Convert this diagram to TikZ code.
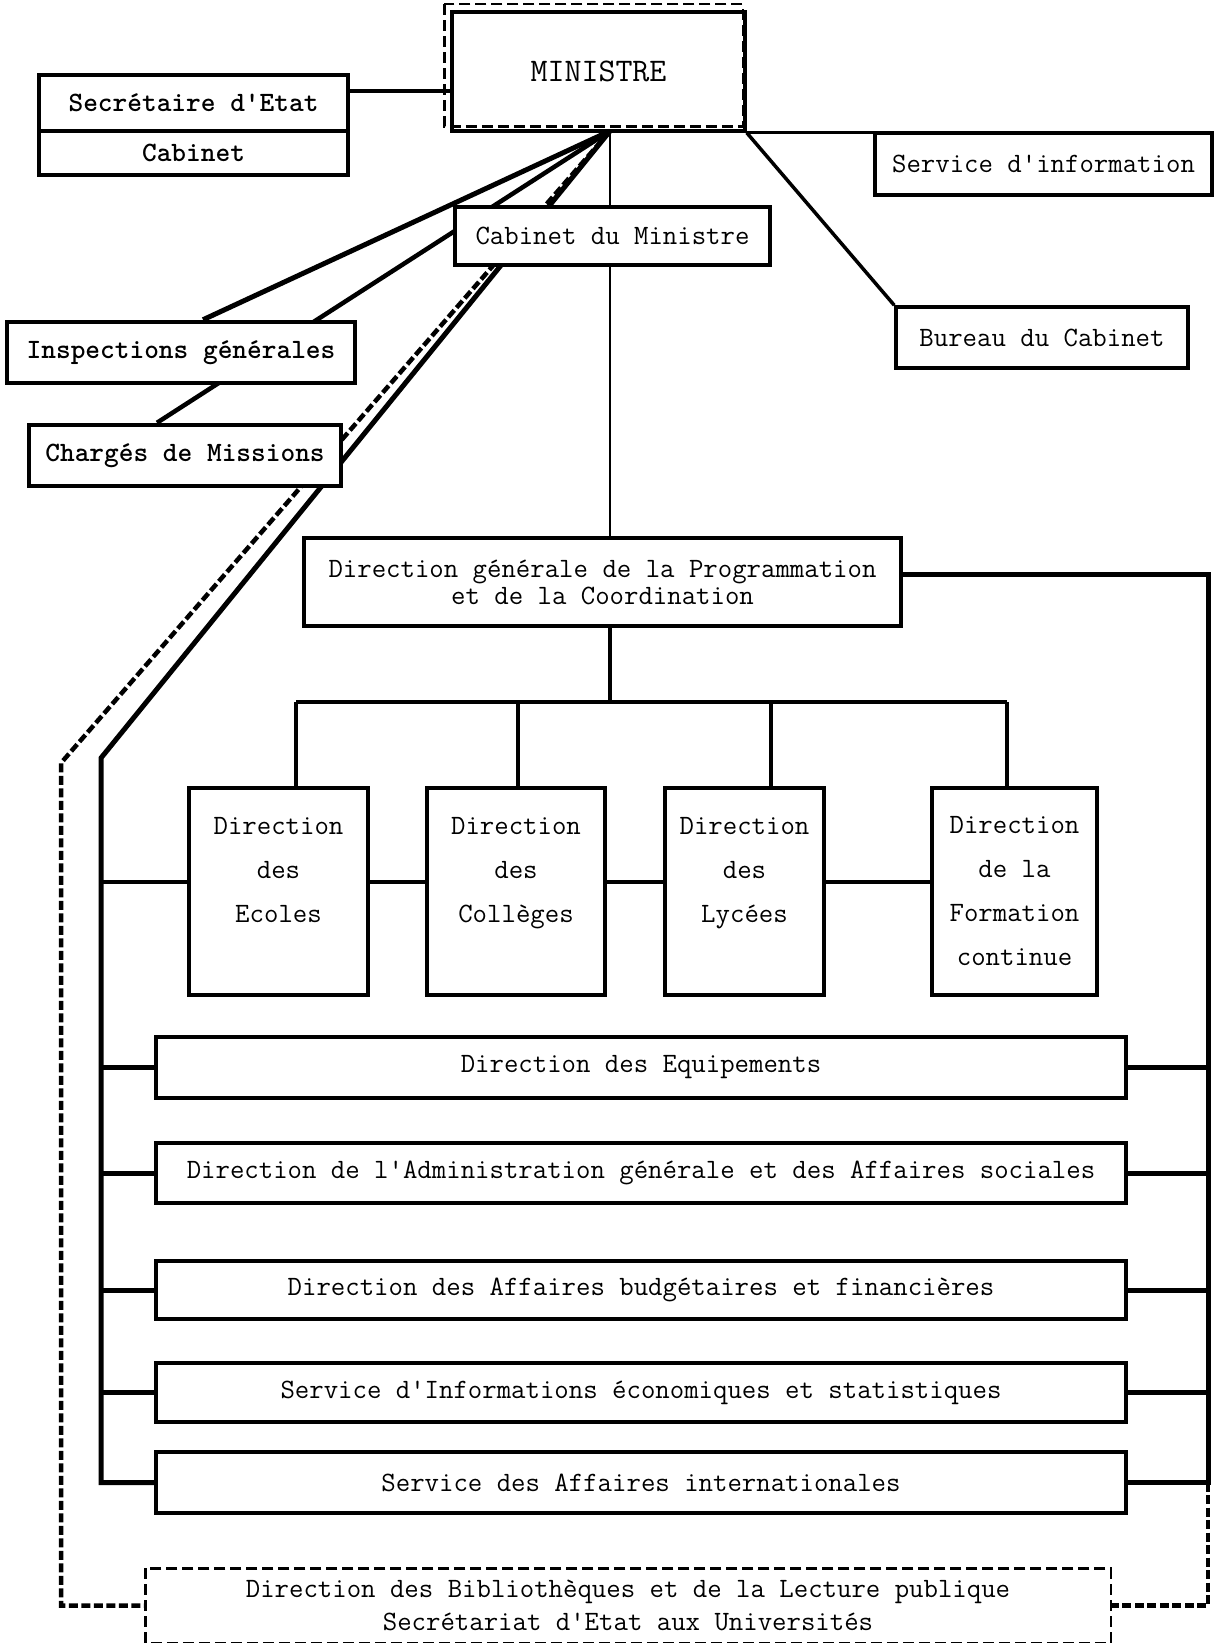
\documentclass[tikz,border=0pt]{standalone}
\usetikzlibrary{%
    backgrounds,
    calc,
    positioning
}
\tikzset{officebox/.style = {draw, line width=3.5pt, fill=white, inner sep=0pt,
    font=\fontsize{28}{34}\selectfont\ttfamily}}
\tikzset{heavybox/.style = {officebox, line width=4.5pt,
    font=\fontsize{28}{34}\selectfont\ttfamily\bfseries}}
\tikzset{subbox/.style = {officebox, minimum height=207pt, align=center,
    font=\fontsize{28}{44}\selectfont\ttfamily}}
\tikzset{rowbox/.style = {officebox, minimum width=970pt}}
\tikzset{tie/.style = {line width=3.5pt}}
\tikzset{thintie/.style = {line width=2.5pt}}
\tikzset{trunk/.style = {line width=5pt}}
\tikzset{dashtie/.style = {line width=4.5pt, dash pattern=on 9pt off 3.5pt}}
\tikzset{dashframe/.style = {line width=2.5pt, dash pattern=on 11pt off 5pt}}

\begin{document}
\begin{tikzpicture}[x=1pt, y=-1pt]
    \useasboundingbox (0,0) rectangle (1216,1643);

    \node[officebox, minimum width=293pt, minimum height=119pt,
        font=\fontsize{33}{40}\selectfont\ttfamily] (ministre) at (598.5,71.5) {MINISTRE};
    \draw[dashframe] ([shift={(-6,-6)}]ministre.north west) rectangle ([shift={(-4,-6)}]ministre.south east);

    \node[heavybox, minimum width=309pt, minimum height=56pt] (secr) at (193.5,103) {Secrétaire d'Etat};
    \node[heavybox, minimum width=309pt, minimum height=44pt] (cab) at (193.5,153) {Cabinet};
    \node[officebox, minimum width=337pt, minimum height=62pt] (servinfo) at (1043.5,164) {Service d'information};
    \node[officebox, minimum width=315pt, minimum height=58pt] (cabmin) at (612.5,236) {Cabinet du Ministre};
    \node[officebox, minimum width=292pt, minimum height=61pt] (bureau) at (1042,337.5) {Bureau du Cabinet};
    \node[heavybox, minimum width=348pt, minimum height=61pt] (insp) at (181,352.5) {Inspections générales};
    \node[heavybox, minimum width=312pt, minimum height=61pt] (charges) at (185,455.5) {Chargés de Missions};

    \node[officebox, minimum width=597pt, minimum height=88pt, align=center,
        font=\fontsize{28}{27}\selectfont\ttfamily] (dg) at (602.5,582)
        {Direction générale de la Programmation\\et de la Coordination};

    \node[subbox, minimum width=179pt] (ecoles) at (278.5,891.5) {Direction\\des\\Ecoles\\\mbox{}};
    \node[subbox, minimum width=178pt] (colleges) at (516,891.5) {Direction\\des\\Collèges\\\mbox{}};
    \node[subbox, minimum width=159pt] (lycees) at (744.5,891.5) {Direction\\des\\Lycées\\\mbox{}};
    \node[subbox, minimum width=165pt] (formation) at (1014.5,891.5) {Direction\\de la\\Formation\\continue};

    \node[rowbox, minimum height=61pt] (equip) at (641,1067.5) {Direction des Equipements};
    \node[rowbox, minimum height=60pt] (admin) at (641,1173) {Direction de l'Administration générale et des Affaires sociales};
    \node[rowbox, minimum height=58pt] (budget) at (641,1290) {Direction des Affaires budgétaires et financières};
    \node[rowbox, minimum height=59pt] (stat) at (641,1392.5) {Service d'Informations économiques et statistiques};
    \node[rowbox, minimum height=61pt] (intl) at (641,1482.5) {Service des Affaires internationales};

    \node[officebox, draw=none, minimum width=962pt, minimum height=71pt, align=center,
        font=\fontsize{28}{33}\selectfont\ttfamily] (bib) at (628,1605.5)
        {Direction des Bibliothèques et de la Lecture publique\\Secrétariat d'Etat aux Universités};
    \draw[dashframe] (bib.north west) rectangle (bib.south east);

    \coordinate (apex) at (610,131);
    \coordinate (secrlink) at ([yshift=12pt]secr.east);
    \coordinate (lbend) at (101,758);
    \coordinate (ldash) at (61,763);
    \coordinate (rtrunk) at (1208,574);
    \coordinate (bus) at (610,702);
    \coordinate (midrow) at (0,882);
    \foreach \Name/\Dx in {ecoles/17.5, colleges/2, lycees/26.5, formation/-7.5}
        \coordinate (\Name top) at ([xshift=\Dx pt]\Name.north);

    \begin{scope}[on background layer]
        \draw[tie] (secrlink) -- (secrlink -| ministre.west);
        \draw[tie] (ministre.south east) -- (ministre.south east -| servinfo.west);
        \draw[tie] (ministre.south east) -- (bureau.north west);
        \draw[trunk] (apex) -- ([xshift=22pt]insp.north);
        \draw[trunk, line width=4.5pt] (apex) -- ([xshift=-28pt]charges.north);
        \draw[thintie] (apex) -- (apex |- dg.north);
        \draw[tie] (apex |- dg.south) -- (bus);
        \draw[tie] (ecolestop |- bus) -- (formationtop |- bus);
        \foreach \Name in {ecoles, colleges, lycees, formation}
            \draw[tie] (\Name top) -- (\Name top |- bus);
        \foreach \Left/\Right in {ecoles/colleges, colleges/lycees, lycees/formation}
            \draw[tie] (\Left.east |- midrow) -- (\Right.west |- midrow);

        \draw[trunk] (apex) -- (lbend) -- (lbend |- intl.west) -- (intl.west);
        \draw[tie] (lbend |- midrow) -- (ecoles.west |- midrow);
        \draw[trunk] (rtrunk -| dg.east) -- (rtrunk) -- (rtrunk |- intl.east) -- (intl.east);
        \foreach \Row in {equip, admin, budget, stat} {
            \draw[trunk] (\Row.west) -- (\Row.west -| lbend);
            \draw[trunk] (\Row.east) -- (\Row.east -| rtrunk);
        }

        \draw[dashtie] (apex) -- (ldash) -- (ldash |- bib.west) -- (bib.west);
        \draw[dashtie] (rtrunk |- intl.east) -- (rtrunk |- bib.east) -- (bib.east);
    \end{scope}
\end{tikzpicture}
\end{document}
